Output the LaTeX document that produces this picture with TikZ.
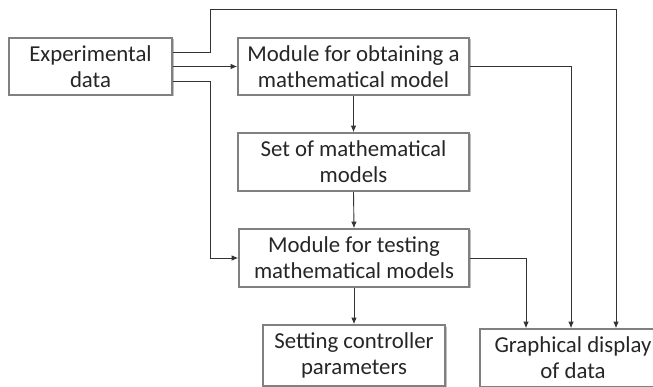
\documentclass[tikz,border=0pt]{standalone}
\usepackage{fontspec}
\setmainfont{Carlito}
\usetikzlibrary{arrows.meta,shadows}
\begin{document}
\begin{tikzpicture}[x=1pt,y=-1pt,
  box/.style={draw=black!50,line width=1.6pt,fill=white,align=center,inner sep=0pt,
    font=\fontsize{22.8}{26}\selectfont,text=black!85,
    drop shadow={shadow xshift=1.5pt,shadow yshift=-1.5pt,fill=black,opacity=0.25}},
  conn/.style={draw=black!80,line width=0.9pt,-{Latex[length=6.5pt,width=5.5pt]}},
  plain/.style={draw=black!80,line width=0.9pt}]
\useasboundingbox (0,0) rectangle (653,387);
\node[box,minimum width=163pt,minimum height=57pt] (exp) at (90.5,66.5) {Experimental\\data};
\node[box,minimum width=231pt,minimum height=57pt] (mod) at (353.5,66.5) {Module for obtaining a\\mathematical model};
\node[box,minimum width=231pt,minimum height=58pt] (set) at (353.5,162) {Set of mathematical\\models};
\node[box,minimum width=230pt,minimum height=58pt] (test) at (354,258) {Module for testing\\mathematical models};
\node[box,minimum width=182pt,minimum height=61pt] (setc) at (354,355.5) {Setting controller\\parameters};
\node[box,minimum width=186pt,minimum height=58pt] (graph) at (573,358) {Graphical display\\of data};
\coordinate (c1) at (210,9);
\coordinate (c3) at (210,258);
\draw[conn] ([yshift=14.5pt]exp.east) -| (c1) -| ([xshift=43pt]graph.north);
\draw[conn] (exp.east) -- (mod.west);
\draw[conn] ([yshift=-14.5pt]exp.east) -| (c3) -- (test.west);
\draw[conn] (mod.east) -| ([xshift=-2pt]graph.north);
\draw[conn] (test.east) -| ([xshift=-47pt]graph.north);
\draw[conn] (mod.south) -- (set.north);
\draw[conn] (set.south) -- (test.north);
\draw[conn] (test.south) -- (setc.north);
\end{tikzpicture}
\end{document}
